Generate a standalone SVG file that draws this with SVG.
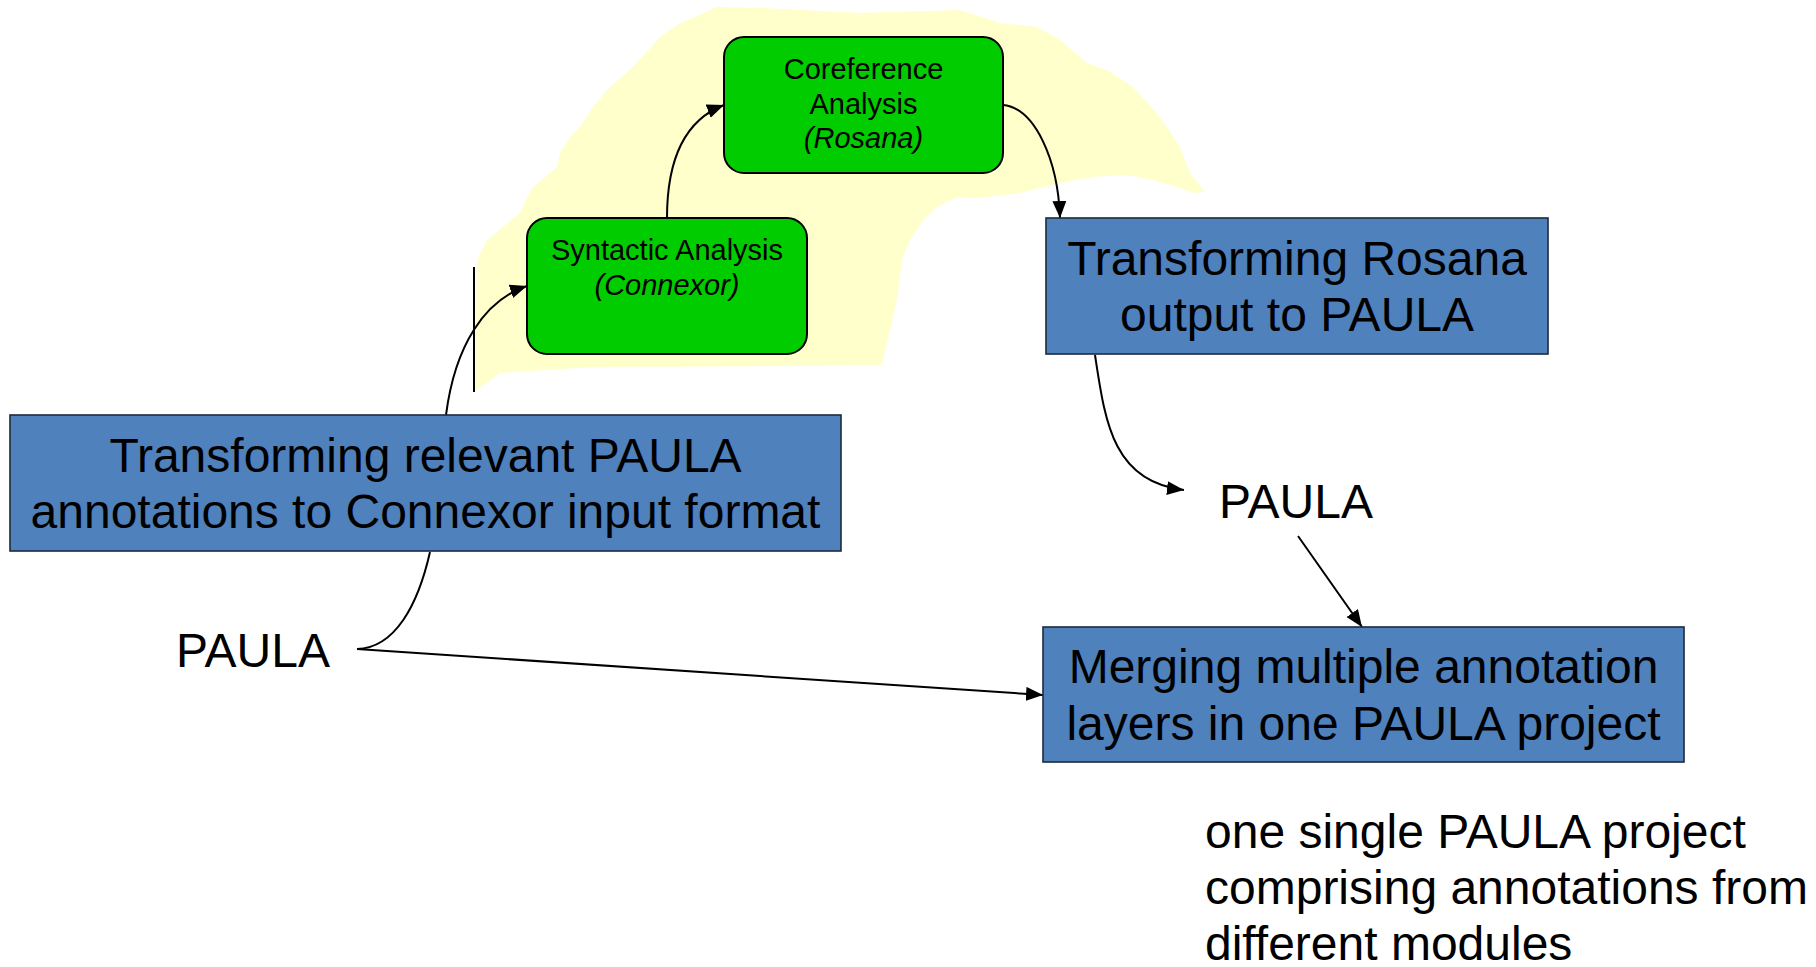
<svg xmlns="http://www.w3.org/2000/svg" width="1816" height="967" viewBox="0 0 1816 967">
<style>
.blue{fill:#4F81BD;stroke:#1c2a3c;stroke-width:1.6}
.green{fill:#00CC00;stroke:#000;stroke-width:2}
.big{font-family:"Liberation Sans",Arial,sans-serif;font-size:48px;fill:#000}
.small{font-family:"Liberation Sans",Arial,sans-serif;font-size:29px;fill:#000}
.conn{fill:none;stroke:#000;stroke-width:2}
</style>
<defs>
<marker id="arr" markerUnits="userSpaceOnUse" markerWidth="19" markerHeight="15" refX="17" refY="7" orient="auto">
<path d="M0,0 L17,7 L0,14 z" fill="#000"/>
</marker>
</defs>
<rect width="1816" height="967" fill="#fff"/>
<path id="blob" fill="#FFFFCC" d="M475,391 L477,260 L487,240 L520,213 L527,197 L533,187 L557,167 L560,153 L570,137 L580,127 L593,107 L607,90 L633,67 L660,37 L677,25 L717,7 L760,8 L860,13 L960,10 L1000,23 L1037,27 L1060,40 L1087,63 L1107,70 L1133,87 L1160,117 L1180,147 L1190,173 L1205,192 L1193,193 L1180,188 L1153,180 L1127,175 L1093,177 L1060,183 L1043,187 L1020,193 L977,198 L957,197 L937,207 L923,220 L910,240 L902,260 L897,300 L890,330 L882,365 L800,366 L593,367 L500,373 Z"/>
<line x1="474" y1="267" x2="474" y2="392" stroke="#000" stroke-width="2"/>
<g id="connectors">
<path class="conn" d="M446,415 C455,345 485,300 527,286" marker-end="url(#arr)"/>
<path class="conn" d="M667,218 C667,160 685,120 724,105" marker-end="url(#arr)"/>
<path class="conn" d="M1003,105 C1035,108 1058,160 1060,218" marker-end="url(#arr)"/>
<path class="conn" d="M1095,355 C1105,420 1112,482 1184,490" marker-end="url(#arr)"/>
<path class="conn" d="M1298,536 L1362,627" marker-end="url(#arr)"/>
<path class="conn" d="M430,552 C418,605 395,648 357,649"/>
<path class="conn" d="M357,649 L1043,695" marker-end="url(#arr)"/>
</g>
<g id="syntactic">
<rect class="green" x="527" y="218" width="280" height="136" rx="20"/>
<text class="small" x="667" y="260" text-anchor="middle">Syntactic Analysis</text>
<text class="small" x="667" y="295" text-anchor="middle" font-style="italic">(Connexor)</text>
</g>
<g id="coreference">
<rect class="green" x="724" y="37" width="279" height="136" rx="20"/>
<text class="small" x="863.5" y="79" text-anchor="middle">Coreference</text>
<text class="small" x="863.5" y="114" text-anchor="middle">Analysis</text>
<text class="small" x="863.5" y="148" text-anchor="middle" font-style="italic">(Rosana)</text>
</g>
<g id="transform-connexor">
<rect class="blue" x="10" y="415" width="831" height="136"/>
<text class="big" x="425.5" y="472" text-anchor="middle">Transforming relevant PAULA</text>
<text class="big" x="425.5" y="528" text-anchor="middle">annotations to Connexor input format</text>
</g>
<g id="transform-rosana">
<rect class="blue" x="1046" y="218" width="502" height="136"/>
<text class="big" x="1297" y="275" text-anchor="middle">Transforming Rosana</text>
<text class="big" x="1297" y="331" text-anchor="middle">output to PAULA</text>
</g>
<g id="merging">
<rect class="blue" x="1043" y="627" width="641" height="135"/>
<text class="big" x="1363.5" y="683" text-anchor="middle">Merging multiple annotation</text>
<text class="big" x="1363.5" y="740" text-anchor="middle">layers in one PAULA project</text>
</g>
<g id="paula-left">
<text class="big" x="253" y="667" text-anchor="middle">PAULA</text>
</g>
<g id="paula-right">
<text class="big" x="1296" y="518" text-anchor="middle">PAULA</text>
</g>
<g id="result-note">
<text class="big" x="1205" y="848">one single PAULA project</text>
<text class="big" x="1205" y="904">comprising annotations from</text>
<text class="big" x="1205" y="960">different modules</text>
</g>
</svg>
